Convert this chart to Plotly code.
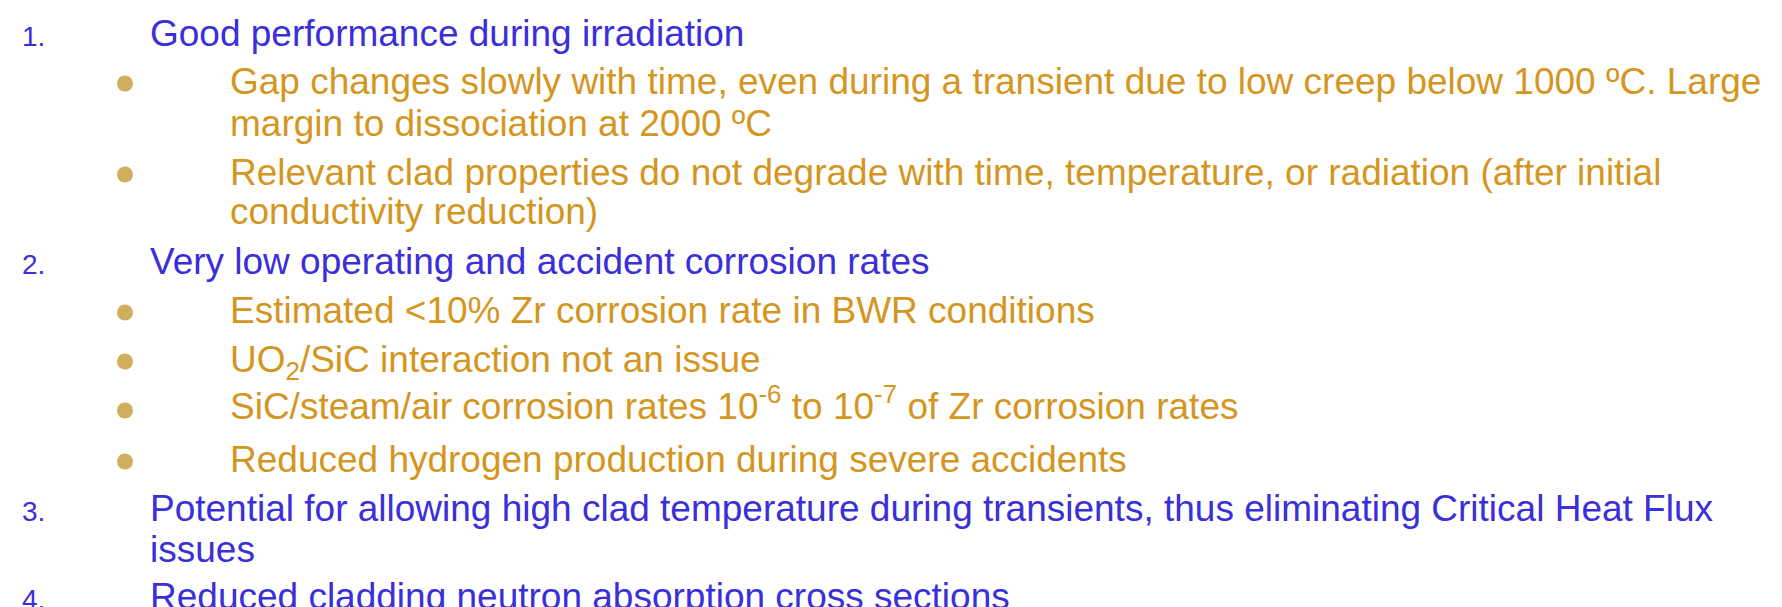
import plotly.graph_objects as go

W, H = 1782, 607

# Slide text: numbered items and their sub-bullets, one entry per rendered line
numbers = ["1.", "2.", "3.", "4."]
number_rows = [0, 5, 10, 12]

lines = [
    "Good performance during irradiation",
    "Gap changes slowly with time, even during a transient due to low creep below 1000 ºC. Large",
    "margin to dissociation at 2000 ºC",
    "Relevant clad properties do not degrade with time, temperature, or radiation (after initial",
    "conductivity reduction)",
    "Very low operating and accident corrosion rates",
    "Estimated <10% Zr corrosion rate in BWR conditions",
    "UO<sub>2</sub>/SiC interaction not an issue",
    "SiC/steam/air corrosion rates 10<sup>-6</sup> to 10<sup>-7</sup> of Zr corrosion rates",
    "Reduced hydrogen production during severe accidents",
    "Potential for allowing high clad temperature during transients, thus eliminating Critical Heat Flux",
    "issues",
    "Reduced cladding neutron absorption cross sections",
]
levels = [1, 2, 2, 2, 2, 1, 2, 2, 2, 2, 1, 1, 1]
bullet_rows = [1, 3, 6, 7, 8, 9]

# Layout: pixel baselines of each line
baselines = [37, 85, 127, 176, 215, 265, 314, 363, 412, 463, 512, 553, 600]
BLUE = "#3a2fd8"
GOLD = "#d4961f"
DOT = "#cfae5e"
FONT = "Liberation Sans, Arial, sans-serif"
FS = 37
NFS = 28
ASC, DESC = 0.905, 0.212

fig = go.Figure()

fig.add_trace(go.Scatter(
    x=[117] * len(bullet_rows),
    y=[baselines[r] - 9.5 for r in bullet_rows],
    mode="markers",
    marker=dict(size=16, color=DOT, line=dict(width=0)),
    hoverinfo="skip", showlegend=False,
))


def place(txt, x, base, size, col):
    if "<sup>" in txt:
        y, ya = base + 1 + DESC * size, "bottom"
    else:
        y, ya = base - 1 - ASC * size, "top"
    fig.add_annotation(
        x=x - 1, y=y, xref="x", yref="y", text=txt, showarrow=False,
        xanchor="left", yanchor=ya, font=dict(family=FONT, size=size, color=col),
    )


for i, txt in enumerate(lines):
    place(txt, 141 if levels[i] == 1 else 221, baselines[i], FS,
          BLUE if levels[i] == 1 else GOLD)

for n, r in zip(numbers, number_rows):
    place(n, 13, baselines[r], NFS, BLUE)

fig.update_layout(
    width=W, height=H,
    margin=dict(l=0, r=0, t=0, b=0),
    paper_bgcolor="white", plot_bgcolor="white",
    xaxis=dict(range=[0, W], visible=False, fixedrange=True),
    yaxis=dict(range=[H, 0], visible=False, fixedrange=True),
    showlegend=False,
)

fig.write_html("out.html")
